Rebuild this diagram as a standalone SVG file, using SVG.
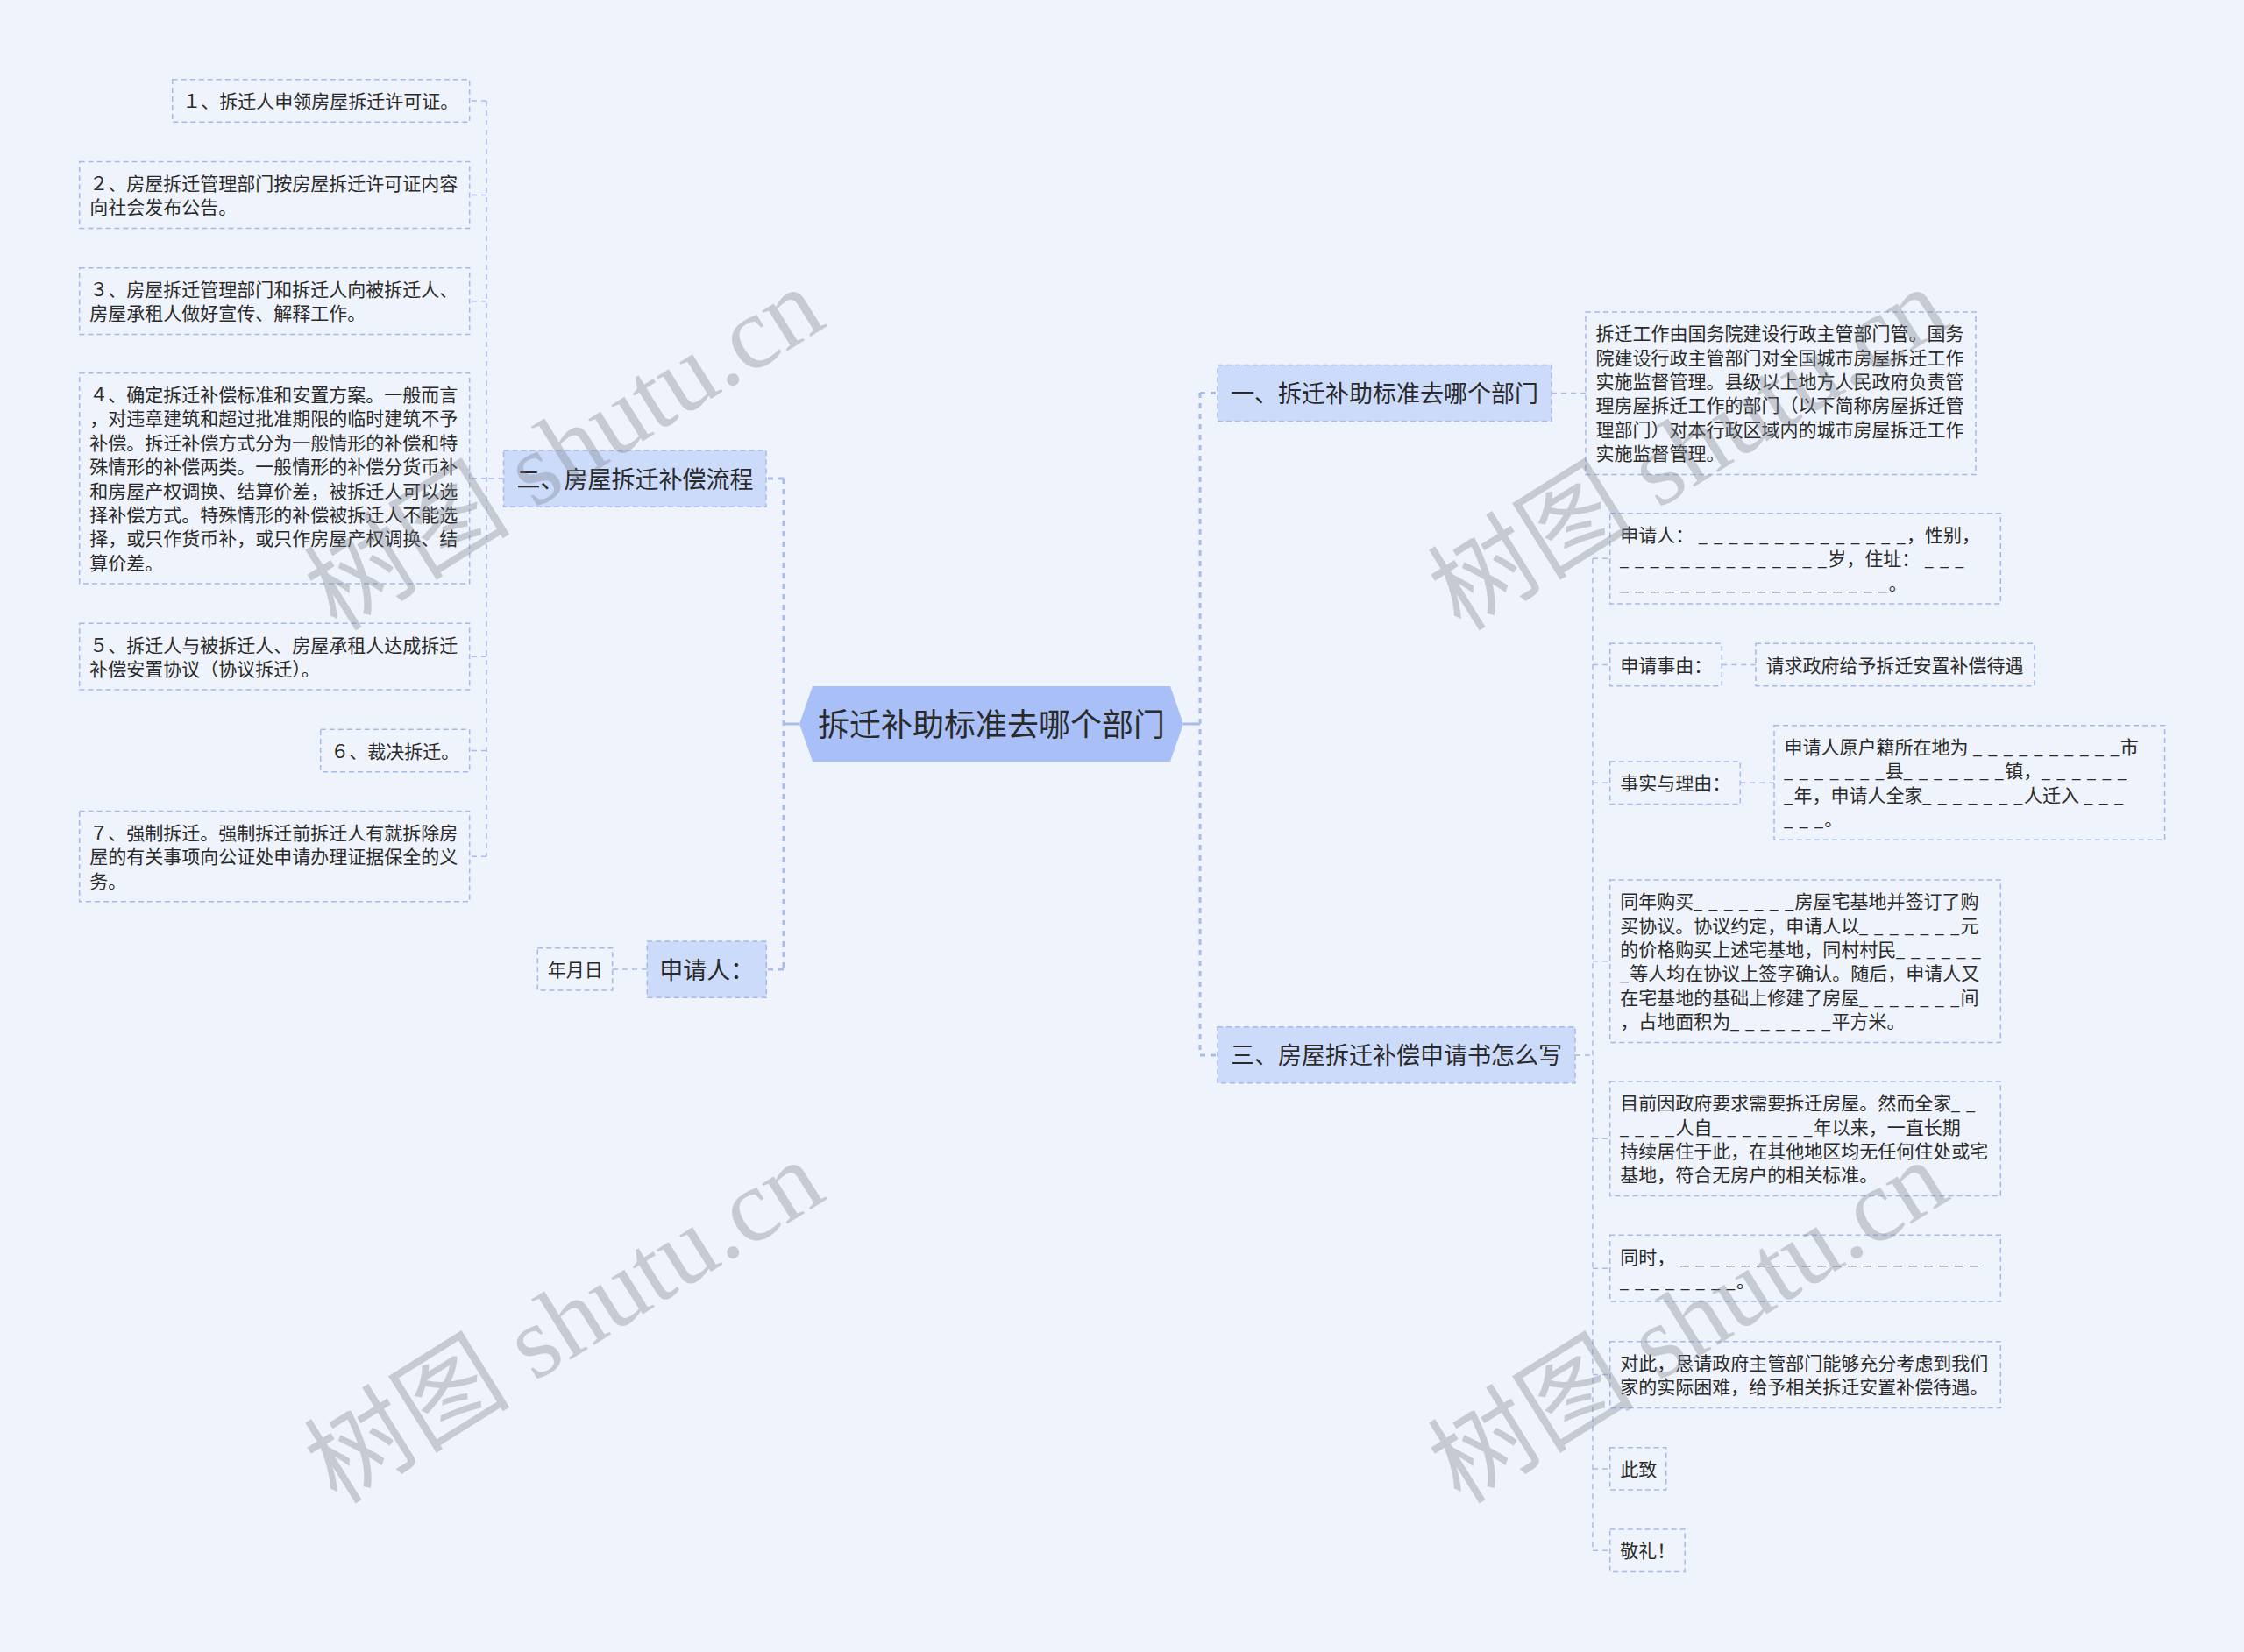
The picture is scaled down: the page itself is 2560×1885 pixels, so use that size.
<svg xmlns="http://www.w3.org/2000/svg" width="2560" height="1885" viewBox="0 0 2560 1885">
<defs>
<style>
text{font-family:"Liberation Sans","Noto Sans CJK SC",sans-serif;fill:#2a2a2a;}
.t{font-size:21px;}
.t1{font-size:27px;}
.t0{font-size:36px;}
.u{font-size:17px;letter-spacing:1.6px;}
.box{fill:none;stroke:#a7b9e6;stroke-width:1.5;stroke-dasharray:6 4;}
.lv1{fill:#ccdbfa;stroke:#a7b9e6;stroke-width:1.5;stroke-dasharray:6 4;}
.root{fill:#a8c0f7;stroke:none;}
.c1{fill:none;stroke:#a9bbe9;stroke-width:3;stroke-dasharray:6 6;}
.c1s{fill:none;stroke:#a9bbe9;stroke-width:3;}
.c2{fill:none;stroke:#a9bbe9;stroke-width:1.5;stroke-dasharray:6 5;}
.wm{font-family:"Liberation Serif","Noto Sans CJK SC",serif;font-size:118px;fill:#7d828c;fill-opacity:0.36;}
</style>
</defs>
<rect x="0" y="0" width="2560" height="1885" fill="#eff3fb"/>

<g id="connectors">
<path class="c1s" d="M912,826 H894"/>
<path class="c1" d="M894,546 V1106"/>
<path class="c1" d="M894,546 H874"/>
<path class="c1" d="M894,1106 H874"/>
<path class="c1s" d="M1350,826 H1369"/>
<path class="c1" d="M1369,448 V1204"/>
<path class="c1" d="M1369,448.5 H1389"/>
<path class="c1" d="M1369,1204 H1389"/>

<path class="c2" d="M574.5,546 H555"/>
<path class="c2" d="M555,115 V977.2"/>
<path class="c2" d="M555,115 H537"/>
<path class="c2" d="M555,222.5 H537"/>
<path class="c2" d="M555,343.7 H537"/>
<path class="c2" d="M555,545.8 H537"/>
<path class="c2" d="M555,749.2 H537"/>
<path class="c2" d="M555,856.5 H537"/>
<path class="c2" d="M555,977.2 H537"/>

<path class="c2" d="M738,1106 H699"/>

<path class="c2" d="M1770,448.5 H1809"/>

<path class="c2" d="M1797,1204 H1817"/>
<path class="c2" d="M1817,637.3 V1769.2"/>
<path class="c2" d="M1817,637.3 H1835"/>
<path class="c2" d="M1817,758.5 H1835"/>
<path class="c2" d="M1817,893.3 H1835"/>
<path class="c2" d="M1817,1096.7 H1835"/>
<path class="c2" d="M1817,1299.3 H1835"/>
<path class="c2" d="M1817,1447.2 H1835"/>
<path class="c2" d="M1817,1568.6 H1835"/>
<path class="c2" d="M1817,1675.9 H1835"/>
<path class="c2" d="M1817,1769.2 H1835"/>
<path class="c2" d="M1964.3,758.5 H2003"/>
<path class="c2" d="M1985.3,893.3 H2024"/>
</g>

<g id="root">
<polygon class="root" points="912,826 927,783 1335,783 1350,826 1335,869 927,869"/>
<text class="t0" x="1131" y="839.7" text-anchor="middle">拆迁补助标准去哪个部门</text>
</g>

<g id="n-er">
<rect class="lv1" x="574.5" y="514" width="299.5" height="64.3"/>
<text class="t1" x="589.5" y="556.5">二、房屋拆迁补偿流程</text>
</g>
<g id="n-shenqingren">
<rect class="lv1" x="738.3" y="1074" width="136" height="64.3"/>
<text class="t1" x="752.3" y="1116.5">申请人：</text>
</g>
<g id="n-nianyueri">
<rect class="box" x="613.3" y="1081.7" width="85.4" height="48.4"/>
<text class="t" x="624.8" y="1113.9">年月日</text>
</g>
<g id="n-yi">
<rect class="lv1" x="1389" y="416.5" width="381" height="64"/>
<text class="t1" x="1404" y="458.8">一、拆迁补助标准去哪个部门</text>
</g>
<g id="n-san">
<rect class="lv1" x="1389" y="1171.7" width="408" height="64"/>
<text class="t1" x="1404" y="1214">三、房屋拆迁补偿申请书怎么写</text>
</g>

<g id="s1">
<rect class="box" x="196.7" y="90.7" width="339" height="48.6"/>
<text class="t" x="208.2" y="123">１、拆迁人申领房屋拆迁许可证。</text>
</g>
<g id="s2">
<rect class="box" x="90.7" y="184.6" width="445" height="75.8"/>
<text class="t" x="102.2" y="216.8">２、房屋拆迁管理部门按房屋拆迁许可证内容</text>
<text class="t" x="102.2" y="244.2">向社会发布公告。</text>
</g>
<g id="s3">
<rect class="box" x="90.7" y="305.8" width="445" height="75.8"/>
<text class="t" x="102.2" y="338">３、房屋拆迁管理部门和拆迁人向被拆迁人、</text>
<text class="t" x="102.2" y="365.4">房屋承租人做好宣传、解释工作。</text>
</g>
<g id="s4">
<rect class="box" x="90.7" y="425.7" width="445" height="240.2"/>
<text class="t" x="102.2" y="457.9">４、确定拆迁补偿标准和安置方案。一般而言</text>
<text class="t" x="102.2" y="485.3">，对违章建筑和超过批准期限的临时建筑不予</text>
<text class="t" x="102.2" y="512.7">补偿。拆迁补偿方式分为一般情形的补偿和特</text>
<text class="t" x="102.2" y="540.1">殊情形的补偿两类。一般情形的补偿分货币补</text>
<text class="t" x="102.2" y="567.5">和房屋产权调换、结算价差，被拆迁人可以选</text>
<text class="t" x="102.2" y="594.9">择补偿方式。特殊情形的补偿被拆迁人不能选</text>
<text class="t" x="102.2" y="622.3">择，或只作货币补，或只作房屋产权调换、结</text>
<text class="t" x="102.2" y="649.7">算价差。</text>
</g>
<g id="s5">
<rect class="box" x="90.7" y="711.3" width="445" height="75.8"/>
<text class="t" x="102.2" y="743.5">５、拆迁人与被拆迁人、房屋承租人达成拆迁</text>
<text class="t" x="102.2" y="770.9">补偿安置协议（协议拆迁）。</text>
</g>
<g id="s6">
<rect class="box" x="365.7" y="832.3" width="170" height="48.4"/>
<text class="t" x="377.2" y="864.5">６、裁决拆迁。</text>
</g>
<g id="s7">
<rect class="box" x="90.7" y="925.6" width="445" height="103.2"/>
<text class="t" x="102.2" y="957.8">７、强制拆迁。强制拆迁前拆迁人有就拆除房</text>
<text class="t" x="102.2" y="985.2">屋的有关事项向公证处申请办理证据保全的义</text>
<text class="t" x="102.2" y="1012.6">务。</text>
</g>

<g id="y1">
<rect class="box" x="1809" y="356" width="445" height="185.4"/>
<text class="t" x="1820.5" y="388.2">拆迁工作由国务院建设行政主管部门管。国务</text>
<text class="t" x="1820.5" y="415.6">院建设行政主管部门对全国城市房屋拆迁工作</text>
<text class="t" x="1820.5" y="443">实施监督管理。县级以上地方人民政府负责管</text>
<text class="t" x="1820.5" y="470.4">理房屋拆迁工作的部门（以下简称房屋拆迁管</text>
<text class="t" x="1820.5" y="497.8">理部门）对本行政区域内的城市房屋拆迁工作</text>
<text class="t" x="1820.5" y="525.2">实施监督管理。</text>
</g>

<g id="r1">
<rect class="box" x="1836.7" y="585.7" width="445.6" height="103.2"/>
<text class="t" x="1848.2" y="617.9">申请人： <tspan class="u">_ _ _ _ _ _ _ _ _ _ _ _ _ _</tspan>，性别，</text>
<text class="t" x="1848.2" y="645.3"><tspan class="u">_ _ _ _ _ _ _ _ _ _ _ _ _ _</tspan>岁，住址： <tspan class="u">_ _ _</tspan></text>
<text class="t" x="1848.2" y="672.7"><tspan class="u">_ _ _ _ _ _ _ _ _ _ _ _ _ _ _ _ _ _</tspan>。</text>
</g>
<g id="r2">
<rect class="box" x="1836.7" y="734.3" width="127.6" height="48.4"/>
<text class="t" x="1848.2" y="766.5">申请事由：</text>
</g>
<g id="r2b">
<rect class="box" x="2003" y="734.3" width="318" height="48.4"/>
<text class="t" x="2014.5" y="766.5">请求政府给予拆迁安置补偿待遇</text>
</g>
<g id="r3">
<rect class="box" x="1836.7" y="869" width="148.6" height="48.6"/>
<text class="t" x="1848.2" y="901.3">事实与理由：</text>
</g>
<g id="r3b">
<rect class="box" x="2024" y="827.7" width="445.6" height="130.6"/>
<text class="t" x="2035.5" y="859.9">申请人原户籍所在地为 <tspan class="u">_ _ _ _ _ _ _ _ _ _</tspan>市</text>
<text class="t" x="2035.5" y="887.3"><tspan class="u">_ _ _ _ _ _ _</tspan>县<tspan class="u">_ _ _ _ _ _ _</tspan>镇，<tspan class="u">_ _ _ _ _ _</tspan></text>
<text class="t" x="2035.5" y="914.7"><tspan class="u">_</tspan>年，申请人全家<tspan class="u">_ _ _ _ _ _ _</tspan>人迁入 <tspan class="u">_ _ _</tspan></text>
<text class="t" x="2035.5" y="942.1"><tspan class="u">_ _ _</tspan>。</text>
</g>
<g id="r4">
<rect class="box" x="1836.7" y="1004" width="445.6" height="185.4"/>
<text class="t" x="1848.2" y="1036.2">同年购买<tspan class="u">_ _ _ _ _ _ _</tspan>房屋宅基地并签订了购</text>
<text class="t" x="1848.2" y="1063.6">买协议。协议约定，申请人以<tspan class="u">_ _ _ _ _ _ _</tspan>元</text>
<text class="t" x="1848.2" y="1091">的价格购买上述宅基地，同村村民<tspan class="u">_ _ _ _ _ _</tspan></text>
<text class="t" x="1848.2" y="1118.4"><tspan class="u">_</tspan>等人均在协议上签字确认。随后，申请人又</text>
<text class="t" x="1848.2" y="1145.8">在宅基地的基础上修建了房屋<tspan class="u">_ _ _ _ _ _ _</tspan>间</text>
<text class="t" x="1848.2" y="1173.2">，占地面积为<tspan class="u">_ _ _ _ _ _ _</tspan>平方米。</text>
</g>
<g id="r5">
<rect class="box" x="1836.7" y="1234" width="445.6" height="130.6"/>
<text class="t" x="1848.2" y="1266.2">目前因政府要求需要拆迁房屋。然而全家<tspan class="u">_ _</tspan></text>
<text class="t" x="1848.2" y="1293.6"><tspan class="u">_ _ _ _</tspan>人自<tspan class="u">_ _ _ _ _ _ _</tspan>年以来，一直长期</text>
<text class="t" x="1848.2" y="1321">持续居住于此，在其他地区均无任何住处或宅</text>
<text class="t" x="1848.2" y="1348.4">基地，符合无房户的相关标准。</text>
</g>
<g id="r6">
<rect class="box" x="1836.7" y="1409.3" width="445.6" height="75.8"/>
<text class="t" x="1848.2" y="1441.5">同时， <tspan class="u">_ _ _ _ _ _ _ _ _ _ _ _ _ _ _ _ _ _ _ _</tspan></text>
<text class="t" x="1848.2" y="1468.9"><tspan class="u">_ _ _ _ _ _ _ _</tspan>。</text>
</g>
<g id="r7">
<rect class="box" x="1836.7" y="1530.7" width="445.6" height="75.8"/>
<text class="t" x="1848.2" y="1562.9">对此，恳请政府主管部门能够充分考虑到我们</text>
<text class="t" x="1848.2" y="1590.3">家的实际困难，给予相关拆迁安置补偿待遇。</text>
</g>
<g id="r8">
<rect class="box" x="1836.7" y="1651.7" width="64" height="48.4"/>
<text class="t" x="1848.2" y="1683.9">此致</text>
</g>
<g id="r9">
<rect class="box" x="1836.7" y="1745" width="85.5" height="48.4"/>
<text class="t" x="1848.2" y="1777.2">敬礼！</text>
</g>

<g id="watermark">
<text class="wm" x="645" y="514" dy="38" text-anchor="middle" transform="rotate(-32 645 514)">树图 shutu.cn</text>
<text class="wm" x="645" y="1510" dy="38" text-anchor="middle" transform="rotate(-32 645 1510)">树图 shutu.cn</text>
<text class="wm" x="1927" y="514" dy="38" text-anchor="middle" transform="rotate(-32 1927 514)">树图 shutu.cn</text>
<text class="wm" x="1927" y="1510" dy="38" text-anchor="middle" transform="rotate(-32 1927 1510)">树图 shutu.cn</text>
</g>
</svg>
